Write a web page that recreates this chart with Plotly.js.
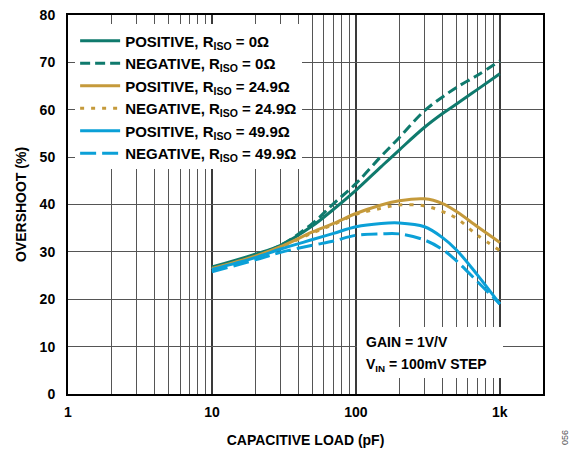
<!DOCTYPE html>
<html>
<head>
<meta charset="utf-8">
<script src="https://cdn.plot.ly/plotly-3.0.1.min.js"></script>
<style>html,body{margin:0;padding:0;background:#fff;}#chart{width:574px;height:450px;}</style>
</head>
<body>
<div id="chart"></div>
<script>
// Capacitive load (pF)
var capLoad = [10, 20, 30, 50, 70, 100, 150, 200, 300, 400, 500, 700, 1000];
// Overshoot (%) per series
var posR0    = [26.8, 29.5, 31.4, 35.5, 39.0, 43.0, 48.0, 51.5, 56.3, 59.2, 61.2, 64.3, 67.6];
var negR0    = [26.5, 29.3, 31.4, 36.0, 40.2, 44.4, 50.2, 54.1, 59.8, 62.7, 64.7, 67.3, 70.3];
var posR249  = [26.5, 29.1, 31.1, 34.2, 36.0, 38.1, 39.9, 40.8, 41.2, 40.2, 38.5, 35.3, 32.0];
var negR249  = [26.3, 29.0, 31.0, 34.0, 35.8, 37.9, 39.2, 39.9, 39.7, 38.5, 37.1, 33.5, 30.3];
var posR499  = [26.3, 28.8, 30.6, 32.6, 33.9, 35.3, 36.0, 36.1, 35.3, 33.0, 30.4, 25.1, 19.0];
var negR499  = [25.8, 28.3, 29.9, 31.4, 32.3, 33.5, 33.8, 33.8, 32.5, 30.5, 28.1, 23.7, 19.0];

var seriesNames = [
  "POSITIVE, R<sub>ISO</sub> = 0Ω",
  "NEGATIVE, R<sub>ISO</sub> = 0Ω",
  "POSITIVE, R<sub>ISO</sub> = 24.9Ω",
  "NEGATIVE, R<sub>ISO</sub> = 24.9Ω",
  "POSITIVE, R<sub>ISO</sub> = 49.9Ω",
  "NEGATIVE, R<sub>ISO</sub> = 49.9Ω"
];

// Axis ticks
var xMajorVals = [1, 10, 100, 1000];
var xMajorText = ["1", "10", "100", "1k"];
var xMinorVals = [2,3,4,5,6,7,8,9,20,30,40,50,60,70,80,90,200,300,400,500,600,700,800,900];
var yTickVals = [0, 10, 20, 30, 40, 50, 60, 70, 80];

var TEAL = "#0f7a6d", GOLD = "#c59a3b", BLUE = "#0ba0d7";
var seriesData = [posR0, negR0, posR249, negR249, posR499, negR499];
var colors = [TEAL, TEAL, GOLD, GOLD, BLUE, BLUE];
var dashes = ["solid", "10px,5px", "solid", "4px,7px", "solid", "16px,6px"];

var traces = seriesData.map(function (ys, i) {
  return {
    x: capLoad, y: ys, name: seriesNames[i], type: "scatter", mode: "lines",
    legendgroup: "g" + i,
    line: {color: colors[i], width: 3, dash: dashes[i], shape: "spline", smoothing: 1}
  };
});

var FONT = "Liberation Sans, Arial, sans-serif";

var layout = {
  width: 574, height: 450,
  margin: {l: 68, r: 31, t: 15, b: 56, pad: 0},
  paper_bgcolor: "#fff", plot_bgcolor: "#fff",
  font: {family: FONT, size: 14, color: "#000"},
  showlegend: true,
  legend: {
    x: 0.015, y: 0.975, xanchor: "left", yanchor: "top",
    bgcolor: "#fff", borderwidth: 0,
    font: {family: FONT, size: 15, color: "#000", weight: "bold"},
    traceorder: "grouped", tracegroupgap: 0,
    itemwidth: 40
  },
  xaxis: {
    type: "log", range: [0, Math.log10(1995)],
    tickmode: "array", tickvals: xMajorVals, ticktext: xMajorText,
    ticks: "", ticklabelstandoff: 4,
    tickfont: {family: FONT, size: 14, weight: "bold"},
    showgrid: true, gridcolor: "#3a3a3a", gridwidth: 1.5,
    minor: {tickmode: "array", tickvals: xMinorVals, showgrid: true, gridcolor: "#555", gridwidth: 1, ticks: ""},
    showline: true, linecolor: "#000", linewidth: 2, mirror: true,
    zeroline: false,
    title: {text: "CAPACITIVE LOAD (pF)", font: {family: FONT, size: 14, weight: "bold"}, standoff: 16}
  },
  yaxis: {
    range: [0, 80], tickmode: "array", tickvals: yTickVals,
    ticks: "", ticklabelstandoff: 8,
    tickfont: {family: FONT, size: 14, weight: "bold"},
    showgrid: true, gridcolor: "#555", gridwidth: 1,
    showline: true, linecolor: "#000", linewidth: 2, mirror: true,
    zeroline: false,
    title: {text: "OVERSHOOT (%)", font: {family: FONT, size: 14, weight: "bold"}, standoff: 10}
  },
  shapes: [{
    type: "rect", xref: "paper", yref: "paper", layer: "above",
    x0: (357 - 68) / 475, x1: (503 - 68) / 475,
    y0: (394 - 378) / 379.5, y1: (394 - 327) / 379.5,
    fillcolor: "#fff", line: {width: 0}
  }],
  annotations: [
    {xref: "paper", yref: "paper", x: (364 - 68) / 475, y: (394 - 342) / 379.5,
     xanchor: "left", yanchor: "middle", showarrow: false,
     text: "GAIN = 1V/V", font: {family: FONT, size: 14, weight: "bold"}},
    {xref: "paper", yref: "paper", x: (364 - 68) / 475, y: (394 - 365) / 379.5,
     xanchor: "left", yanchor: "middle", showarrow: false,
     text: "V<sub>IN</sub> = 100mV STEP", font: {family: FONT, size: 14, weight: "bold"}},
    {xref: "paper", yref: "paper", x: (565 - 68) / 475, y: (394 - 438) / 379.5,
     xanchor: "center", yanchor: "middle", showarrow: false, textangle: -90,
     text: "056", font: {family: FONT, size: 9, color: "#555"}}
  ]
};

Plotly.newPlot("chart", traces, layout, {staticPlot: true, displayModeBar: false});
</script>
</body>
</html>
